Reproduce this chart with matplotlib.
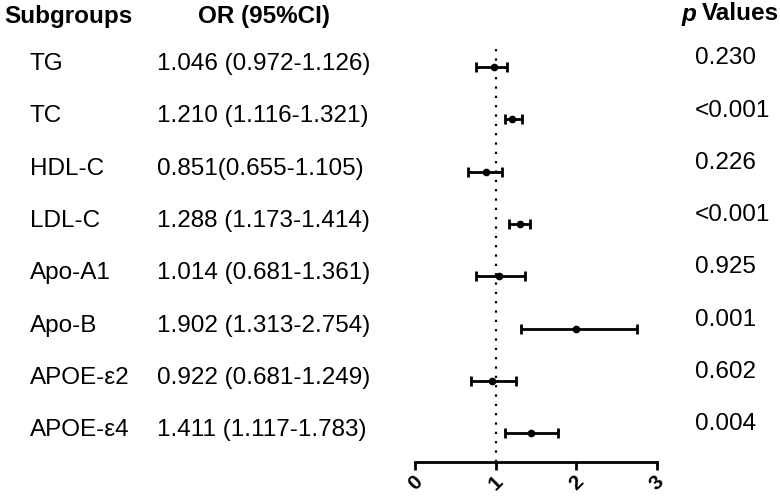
import numpy as np
import matplotlib.pyplot as plt
from matplotlib.transforms import blended_transform_factory

plt.rcParams['font.family'] = ['Liberation Sans', 'DejaVu Sans']

# data
subgroups = ['TG', 'TC', 'HDL-C', 'LDL-C', 'Apo-A1', 'Apo-B', 'APOE-ε2', 'APOE-ε4']
or_labels = ['1.046 (0.972-1.126)', '1.210 (1.116-1.321)', '0.851(0.655-1.105)',
             '1.288 (1.173-1.414)', '1.014 (0.681-1.361)', '1.902 (1.313-2.754)',
             '0.922 (0.681-1.249)', '1.411 (1.117-1.783)']
p_labels = ['0.230', '<0.001', '0.226', '<0.001', '0.925', '0.001', '0.602', '0.004']

# points as drawn in the figure
est = np.array([0.98, 1.20, 0.88, 1.30, 1.04, 2.00, 0.95, 1.44])
lo = np.array([0.76, 1.12, 0.66, 1.17, 0.76, 1.31, 0.69, 1.12])
hi = np.array([1.14, 1.33, 1.08, 1.43, 1.37, 2.75, 1.25, 1.78])
xticks = [0, 1, 2, 3]

fig = plt.figure(figsize=(7.8, 4.96), dpi=100)
ax = fig.add_axes([0.532, 0.0685, 0.310, 0.8468])

rows = np.arange(len(subgroups))
ax.errorbar(est, rows, xerr=[est - lo, hi - est], fmt='o', color='black',
            ms=4.5, elinewidth=2, capsize=3.5, capthick=2)
ax.axvline(1, color='black', lw=1.6, linestyle=(0, (1, 3.2)), zorder=0)

ax.set_xlim(0, 3)
ax.set_ylim(7.55, -0.48)
ax.set_xticks(xticks)
ax.set_xticklabels([str(t) for t in xticks], rotation=45, fontsize=15, fontweight='bold')
ax.tick_params(axis='x', direction='out', length=6, width=2, pad=1)
ax.set_yticks([])
for s in ['left', 'top', 'right']:
    ax.spines[s].set_visible(False)
ax.spines['bottom'].set_linewidth(2)

tr = blended_transform_factory(fig.transFigure, ax.transData)
fs = 17.5
for i in rows:
    ax.text(30 / 780, i - 0.06, subgroups[i], transform=tr, fontsize=fs,
            ha='left', va='center', clip_on=False)
    ax.text(157 / 780, i - 0.06, or_labels[i], transform=tr, fontsize=fs,
            ha='left', va='center', clip_on=False)
    ax.text(695 / 780, i - 0.17, p_labels[i], transform=tr, fontsize=fs,
            ha='left', va='center', clip_on=False)

# headers
fig.text(4 / 780, 1 - 16 / 496, 'Subgroups', fontsize=fs, fontweight='bold', va='center')
fig.text(264 / 780, 1 - 16 / 496, 'OR (95%CI)', fontsize=fs, fontweight='bold',
         va='center', ha='center')
fig.text(682 / 780, 1 - 14 / 496, 'p', fontsize=fs, fontweight='bold', fontstyle='italic',
         va='center')
fig.text(702 / 780, 1 - 14 / 496, 'Values', fontsize=fs, fontweight='bold', va='center')

fig.savefig('out.png', dpi=100)
